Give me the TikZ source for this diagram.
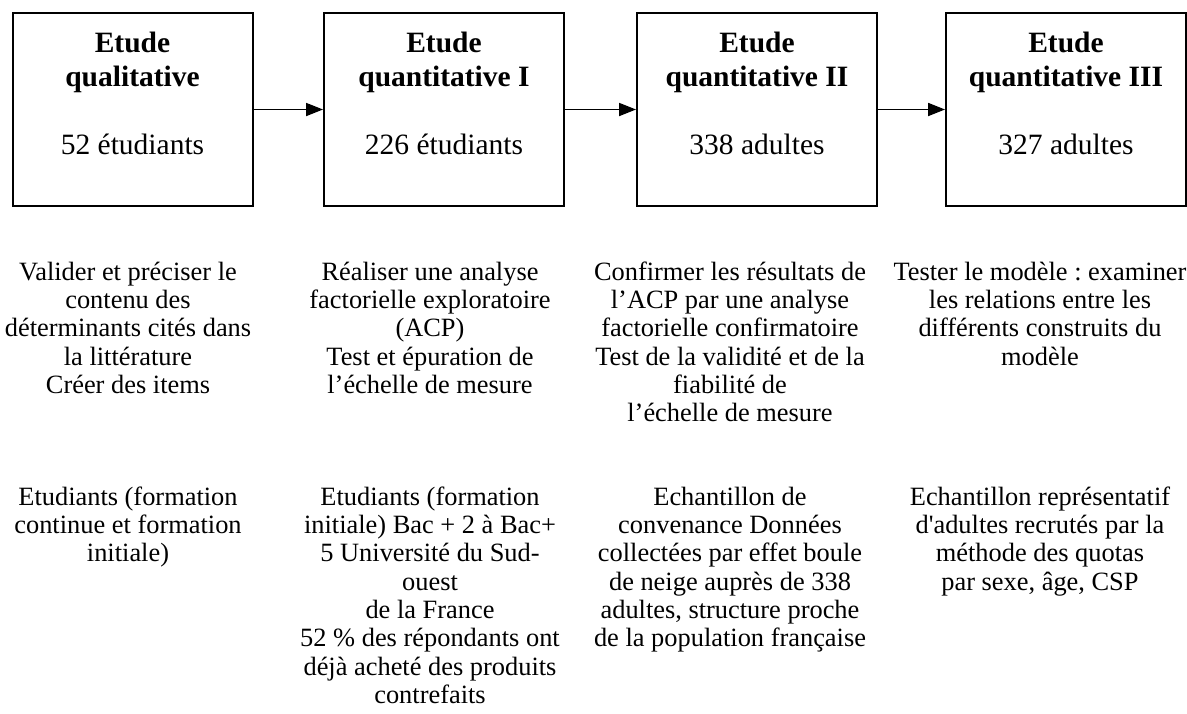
\documentclass[tikz,border=0pt]{standalone}
\usepackage{fontspec}
\setmainfont{Liberation Serif}
\usetikzlibrary{arrows.meta}
\frenchspacing
\begin{document}
\begin{tikzpicture}[x=1pt,y=-1pt,
  box/.style={draw, line width=2pt, minimum width=240pt, minimum height=193pt, inner sep=0pt},
  title/.style={anchor=north, align=center, inner sep=0pt, font=\fontsize{29.5}{34}\selectfont},
  desc/.style={anchor=north, align=center, inner sep=0pt, font=\fontsize{26.4}{28.3}\selectfont},
  flow/.style={line width=1.8pt, -{Triangle[length=17pt,width=13pt]}}]
\useasboundingbox (0,0) rectangle (1187,713);
% boxes
\node[box] (b1) at (132.5,109.5) {};
\node[box] (b2) at (444,109.5) {};
\node[box] (b3) at (757,109.5) {};
\node[box] (b4) at (1066,109.5) {};
% box texts
\node[title] (t1) at (132.5,28.2) {\strut\textbf{Etude}\\\textbf{qualitative}\\[34pt]52 étudiants};
\node[title] (t2) at (444,28.2) {\strut\textbf{Etude}\\\textbf{quantitative I}\\[34pt]226 étudiants};
\node[title] (t3) at (757,28.2) {\strut\textbf{Etude}\\\textbf{quantitative II}\\[34pt]338 adultes};
\node[title] (t4) at (1066,28.2) {\strut\textbf{Etude}\\\textbf{quantitative III}\\[34pt]327 adultes};
% arrows
\draw[flow] (b1.east) -- (b2.west);
\draw[flow] (b2.east) -- (b3.west);
\draw[flow] (b3.east) -- (b4.west);
% objectives
\node[desc] (o1) at (128,260.2) {\strut Valider et préciser le\\contenu des\\déterminants cités dans\\la littérature\\Créer des items};
\node[desc] (o2) at (430,260.2) {\strut Réaliser une analyse\\factorielle exploratoire\\(ACP)\\Test et épuration de\\l’échelle de mesure};
\node[desc] (o3) at (730,260.2) {\strut Confirmer les résultats de\\l’ACP par une analyse\\factorielle confirmatoire\\Test de la validité et de la\\fiabilité de\\l’échelle de mesure};
\node[desc] (o4) at (1040,260.2) {\strut Tester le modèle : examiner\\les relations entre les\\différents construits du\\modèle};
% samples
\node[desc] (s1) at (128,485.2) {\strut Etudiants (formation\\continue et formation\\initiale)};
\node[desc] (s2) at (430,485.2) {\strut Etudiants (formation\\initiale) Bac + 2 à Bac+\\5 Université du Sud-\\ouest\\de la France\\52 \% des répondants ont\\déjà acheté des produits\\contrefaits};
\node[desc] (s3) at (730,485.2) {\strut Echantillon de\\convenance Données\\collectées par effet boule\\de neige auprès de 338\\adultes, structure proche\\de la population française};
\node[desc] (s4) at (1040,485.2) {\strut Echantillon représentatif\\d\textquotesingle adultes recrutés par la\\méthode des quotas\\par sexe, âge, CSP};
\end{tikzpicture}
\end{document}
